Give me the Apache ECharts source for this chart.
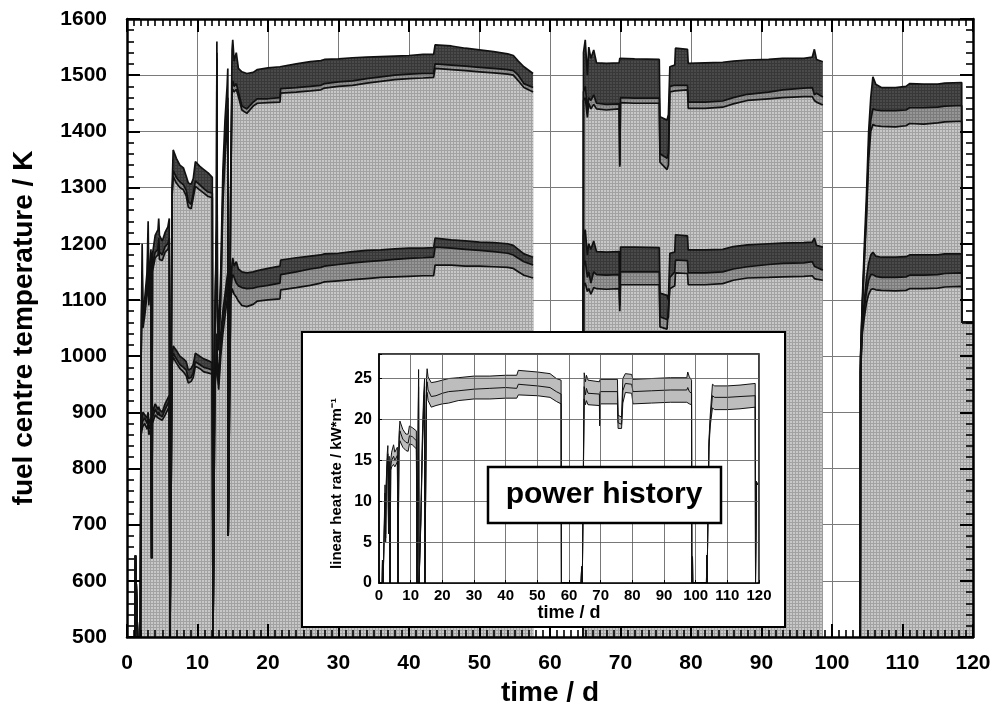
<!DOCTYPE html>
<html><head><meta charset="utf-8">
<script src="https://cdn.jsdelivr.net/npm/echarts@6/dist/echarts.min.js"></script>
<style>html,body{margin:0;padding:0;background:#fff}#c{width:996px;height:715px}</style>
</head><body><div id="c"></div>
<script>
// ---------- main chart data (time / d vs fuel centre temperature / K) ----------
const days = [1.15,1.2,1.45,1.5,1.9, 2.0,2.15,2.25,2.5,2.85, 3.0,3.1,3.4,3.5,3.6, 4.0,4.4,4.5,4.6,5.0, 5.4,5.8,6.0,6.1,6.3, 6.4,6.55,7.0,7.5,8.0, 8.4,8.7,9.1,9.4,9.7, 10.3,10.9,11.5,12.1,12.2, 12.4,12.45,12.7,12.75,12.82, 13.0,13.3,13.6,13.9,14.2, 14.3,14.35,14.6,14.7,14.9, 15.0,
  15.2,15.5,15.8,16.3,17.0, 17.9,18.5,20.0,21.7,21.8, 24.0,26.0,27.5,28.0,30.0, 32.0,34.0,36.0,38.0,40.0, 42.0,43.5,43.7,46.0,48.0, 50.0,52.0,54.0,54.8,55.5, 56.3,57.6,60,
  64.7,64.75,65.0,65.3,65.5, 65.8,66.2,66.6,68.0,69.8, 69.9,70.0,72.0,75.5,75.6, 76.6,76.8,77.0,77.7,77.8, 79.5,79.6,82.0,84.5,86.0, 88.0,91.0,93.0,96.0,97.2, 97.5,97.8,98.7,101,
  104.0,104.05,104.3,104.6,104.9, 105.2,105.5,105.8,106.2,107.0, 109.0,110.5,111.0,113.0,115.0, 116.0,118.4,118.45,120];

const upperTop = [500,645,645,500,500, 1000,1200,1080,1100,1150, 1240,1120,1190,640,1180, 1215,1225,1245,1215,1205, 1220,1230,1245,500,500, 1300,1367,1352,1340,1335, 1320,1308,1306,1316,1346, 1338,1332,1326,1318,500, 500,1050,1250,1560,1100, 1040,1150,1330,1420,1480, 1512,680,680,1300,1545, 1563,
  1525,1540,1512,1506,1503, 1505,1510,1513,1515,1518, 1520,1524,1526,1528,1529, 1531,1532,1533,1534,1535, 1537,1537,1554,1552,1548, 1545,1542,1538,1535,1525, 1515,1503,null,
  500,1540,1563,1500,1550, 1530,1545,1522,1521,1522, 1530,1530,1529,1528,1426, 1420,1430,1515,1518,1548, 1546,1521,1522,1523,1525, 1527,1528,1530,1530,1532, 1546,1528,1524,null,
  500,1000,1100,1200,1290, 1400,1460,1497,1484,1478, 1478,1480,1485,1484,1484, 1486,1487,1060,1060];

const upperMid = [500,645,645,500,500, 995,1150,1060,1080,1120, 1200,1100,1170,640,1160, 1185,1190,1210,1185,1180, 1195,1200,1210,500,500, 1290,1330,1318,1310,1305, 1295,1275,1270,1290,1312, 1305,1298,1292,1290,500, 500,1040,1230,1540,1080, 1020,1120,1290,1370,1430, 1460,680,680,1280,1480, 1490,
  1480,1485,1470,1445,1440, 1452,1458,1458,1460,1476, 1478,1480,1482,1485,1488, 1490,1494,1497,1500,1502, 1503,1503,1520,1518,1516, 1514,1512,1510,1508,1500, 1485,1478,null,
  500,1470,1480,1440,1460, 1455,1465,1450,1448,1449, 1340,1460,1459,1459,1360, 1352,1360,1480,1482,1483, 1482,1452,1452,1454,1460, 1466,1470,1474,1477,1478, 1465,1468,1461,null,
  500,995,1090,1180,1260, 1370,1420,1440,1438,1437, 1437,1438,1442,1442,1443, 1445,1446,1060,1060];

const upperBot = [500,645,645,500,500, 990,1140,1050,1070,1110, 1190,1090,1160,640,1150, 1175,1180,1200,1172,1170, 1185,1190,1200,500,500, 1285,1320,1308,1300,1296, 1285,1265,1262,1282,1302, 1296,1290,1284,1282,500, 500,1035,1220,1530,1070, 1010,1100,1270,1350,1410, 1440,680,680,1270,1470, 1475,
  1470,1475,1462,1438,1432, 1445,1450,1451,1452,1468, 1470,1472,1474,1477,1480, 1482,1486,1489,1492,1494, 1495,1496,1512,1510,1508, 1506,1504,1502,1500,1490, 1478,1470,null,
  500,1455,1460,1425,1450, 1440,1448,1440,1438,1440, 1337,1451,1450,1450,1345, 1332,1340,1470,1472,1475, 1474,1441,1441,1443,1449, 1455,1458,1460,1462,1462, 1455,1452,1447,null,
  500,990,1085,1170,1250, 1350,1400,1412,1410,1409, 1408,1410,1414,1413,1415, 1417,1418,1060,1060];

const lowerTop = [500,645,645,500,500, 880,890,900,900,890, 900,880,890,640,900, 915,905,910,905,900, 915,925,930,500,500, 1000,1018,1010,1000,995, 990,975,978,985,1005, 1000,995,992,988,500, 500,950,1000,1040,990, 960,1040,1080,1110,1140, 1148,680,680,1120,1165, 1175,
  1160,1168,1155,1150,1148, 1150,1152,1156,1160,1171, 1175,1178,1180,1182,1183, 1186,1188,1189,1191,1192, 1192,1193,1210,1207,1205, 1203,1202,1200,1197,1190, 1182,1176,null,
  500,1215,1225,1180,1200, 1190,1205,1186,1185,1186, 1100,1194,1194,1193,1112, 1108,1100,1183,1185,1216, 1214,1189,1189,1190,1195, 1198,1200,1201,1202,1203, 1210,1197,1194,null,
  500,980,1060,1100,1140, 1165,1180,1185,1178,1176, 1176,1177,1180,1180,1180, 1182,1182,1060,1060];

const lowerMid = [500,645,645,500,500, 870,880,885,890,880, 890,870,880,640,890, 905,895,900,895,892, 905,915,920,500,500, 990,1005,995,985,980, 975,960,962,970,990, 985,980,978,975,500, 500,945,990,1030,980, 950,1020,1060,1090,1120, 1125,680,680,1110,1140, 1145,
  1140,1130,1125,1122,1120, 1121,1123,1126,1130,1145, 1150,1155,1158,1160,1163, 1166,1168,1170,1172,1174, 1175,1176,1194,1192,1190, 1188,1186,1183,1180,1174, 1168,1162,null,
  500,1160,1170,1140,1150, 1130,1150,1145,1144,1145, 1090,1150,1150,1150,1070, 1065,1070,1140,1150,1171, 1170,1148,1148,1150,1155, 1159,1163,1165,1166,1168, 1160,1158,1153,null,
  500,975,1050,1085,1115, 1135,1145,1145,1142,1140, 1140,1141,1144,1144,1145, 1147,1148,1060,1060];

const lowerBot = [500,645,645,500,500, 860,870,875,880,870, 880,860,870,640,880, 895,890,890,888,886, 895,905,910,500,500, 985,998,988,978,972, 965,952,955,962,982, 978,972,970,968,500, 500,940,985,1020,970, 940,1000,1040,1070,1100, 1105,680,680,1100,1120, 1120,
  1110,1105,1098,1090,1088, 1092,1098,1100,1102,1118, 1122,1126,1130,1132,1134, 1136,1138,1140,1141,1142, 1143,1143,1162,1162,1160, 1160,1159,1158,1156,1150, 1144,1139,null,
  500,1125,1130,1115,1120, 1110,1122,1120,1119,1120, 1080,1127,1127,1127,1052, 1048,1050,1120,1125,1148, 1147,1127,1127,1129,1135, 1139,1140,1141,1142,1143, 1138,1137,1135,null,
  500,970,1040,1070,1095, 1110,1118,1120,1118,1117, 1116,1117,1120,1120,1121, 1123,1124,1060,1060];

// ---------- inset data (power history: linear heat rate / kW*m^-1) ----------
const insetDays = [0,1.0,1.1,1.3,1.8, 1.9,2.1,2.3,2.6,2.8, 3.0,3.2,3.4,3.5,3.7, 4.0,4.6,5.0,5.8,6.0, 6.3,6.6,7.5,8.5,9.2, 9.6,10.5,11.8,12.0,12.4, 12.5,12.65,13.0,13.2,13.7, 14.1,14.4,14.5,14.9,15.0,
  15.2,15.5,16.5,18.0,20.0, 22.0,25.0,30.0,35.0,40.0, 43.5,44.0,50.0,54.0,56.0, 57.5,57.6,63.8,64.0,64.2, 64.7,64.8,65.2,65.5,66.0, 66.6,69.6,69.7,69.8,75.3,
  75.5,76.6,77.0,77.8,79.8, 80.2,86.0,92.0,97.2,97.5, 98.0,98.7,98.8,99.0,99.1, 103.4,103.5,103.6,104.0,104.2, 104.6,105.3,106.0,110.0,114.0, 118.8,118.9,119.1,119.2,119.5];
const insetTop = [0,0,2.8,0,0, 12,6,12.5,15.8,16.8, 8,15.5,15.5,0,15, 16,16.9,16,16.6,0, 18,19.8,18.8,18.2,18.2, 19.2,19,18.6,0,0, 26.1,0,0,8,18, 23,25,0,0,25,
  26.2,25.2,24.5,24.6,24.8, 25.0,25.1,25.3,25.3,25.4, 25.4,26.0,25.8,25.6,25.0, 24.8,0,0,2,0, 0,25.7,24.6,25.4,24.8, 24.6,24.6,24.5,24.9,24.9,
  20.5,20.3,25.0,25.6,25.5, 24.9,25.0,25.1,25.1,25.8, 25.2,24.8,0,3.2,0, 0,3.4,0,0,17.5, 20.5,24.3,24.1,24.1,24.2, 24.4,0,0,12.4,12];
const insetMid = [0,0,2.8,0,0, 11,5.5,12,15,15.8, 7,14.8,14.8,0,14.3, 15,15.5,15,15.6,0, 17,18.6,17.6,17.2,17.1, 18,17.9,17.4,0,0, 25,0,0,7.5,17, 22,24,0,0,24,
  24.6,23.6,22.8,22.9,23.2, 23.4,23.5,23.7,23.8,23.9, 23.8,24.3,24.1,23.9,23.4, 23.1,0,0,2,0, 0,24,23,23.8,23.2, 23.1,23.1,19.4,23.4,23.4,
  19.6,19.4,23.5,24.4,24.3, 23.4,23.5,23.6,23.6,23.9, 23.4,23.2,0,3.2,0, 0,3.4,0,0,17, 19.8,22.9,22.7,22.7,22.8, 22.9,0,0,12.4,12];
const insetBot = [0,0,2.8,0,0, 10,5,11.5,14.2,15, 6,14,14,0,13.8, 14.2,14.5,14.2,14.8,0, 16,17.4,16.6,16.2,16.1, 17,16.9,16.4,0,0, 24,0,0,7,16, 21,23,0,0,23,
  23.3,22.3,21.5,21.7,21.9, 22.0,22.3,22.5,22.5,22.6, 22.6,23.0,22.9,22.7,22.2, 21.9,0,0,2,0, 0,22.5,21.8,22.3,21.8, 21.7,21.7,19.2,21.9,21.9,
  18.9,18.9,22.0,23.3,23.2, 21.9,22.0,22.1,22.1,22.3, 21.9,21.8,0,3.2,0, 0,3.4,0,0,16.5, 19.2,21.4,21.2,21.2,21.3, 21.5,0,0,12.4,12];

// ---------- styling helpers ----------
const FONT = '"Liberation Sans", Arial, Helvetica, sans-serif';
const pair = (xs, ys) => xs.map((x, i) => [x, ys[i]]);

// fine screen-like textures (as in the printed original)
function meshPattern(light, dark) {
  const c = document.createElement('canvas');
  c.width = 3; c.height = 3;
  const g = c.getContext('2d');
  g.fillStyle = light; g.fillRect(0, 0, 3, 3);
  g.fillStyle = dark; g.fillRect(0, 0, 3, 1); g.fillRect(0, 0, 1, 3);
  return { image: c, repeat: 'repeat' };
}
const LIGHT = meshPattern('#c8c8c8', '#a2a2a2');
const MED = meshPattern('#969696', '#7c7c7c');
const DARK = meshPattern('#4a4a4a', '#383838');

function mainSeries(vals, fill) {
  return { type: 'line', data: pair(days, vals), xAxisIndex: 0, yAxisIndex: 0,
    symbol: 'none', showSymbol: false, connectNulls: false, silent: true, z: 2,
    lineStyle: { color: '#111', width: 1.7 },
    areaStyle: { color: fill, opacity: 1, origin: 'start' } };
}
function insetSeries(vals, fill) {
  const s = { type: 'line', data: pair(insetDays, vals), xAxisIndex: 3, yAxisIndex: 3,
    symbol: 'none', showSymbol: false, silent: true, z: 21,
    lineStyle: { color: '#111', width: 1 } };
  if (fill) s.areaStyle = { color: fill, opacity: 1, origin: 'start' };
  return s;
}

const tickCommon = {
  axisLine: { show: true, onZero: false, lineStyle: { color: '#000', width: 2.5 } },
  axisTick: { show: true, inside: true, length: 13, lineStyle: { color: '#000', width: 2 } },
  splitLine: { show: false }
};
const gridLineOnly = {
  axisLine: { show: false }, axisTick: { show: false }, axisLabel: { show: false },
  splitLine: { show: true, lineStyle: { color: '#7a7a7a', width: 1 } }
};
const plain = v => String(v);

function xMain(pos, withLabels) {
  return Object.assign({ type: 'value', gridIndex: 0, position: pos, min: 0, max: 120, interval: 10, z: 5,
    minorTick: { show: true, splitNumber: 10, length: 7, lineStyle: { color: '#000', width: 1.6 } },
    axisLabel: withLabels ? { show: true, fontFamily: FONT, fontSize: 21, fontWeight: 'bold', color: '#000', margin: 16, formatter: plain } : { show: false },
    name: withLabels ? 'time / d' : '', nameLocation: 'middle', nameGap: 39,
    nameTextStyle: { fontFamily: FONT, fontSize: 28, fontWeight: 'bold', color: '#000' }
  }, tickCommon);
}
function yMain(pos, withLabels) {
  return Object.assign({ type: 'value', gridIndex: 0, position: pos, min: 500, max: 1600, interval: 100, z: 5,
    minorTick: { show: true, splitNumber: 5, length: 7, lineStyle: { color: '#000', width: 1.6 } },
    axisLabel: withLabels ? { show: true, fontFamily: FONT, fontSize: 21, fontWeight: 'bold', color: '#000', margin: 20, formatter: plain } : { show: false },
    name: withLabels ? 'fuel centre temperature / K' : '', nameLocation: 'middle', nameGap: 89,
    nameTextStyle: { fontFamily: FONT, fontSize: 28, fontWeight: 'bold', color: '#000' }
  }, tickCommon);
}

const insetAxisBase = {
  z: 22,
  axisLine: { show: true, onZero: false, lineStyle: { color: '#000', width: 1.5 } },
  axisTick: { show: true, inside: true, length: 3, lineStyle: { color: '#000', width: 1 } },
  splitLine: { show: true, lineStyle: { color: '#555', width: 0.8 } }
};

const option = {
  animation: false,
  backgroundColor: '#fff',
  grid: [
    { left: 127, top: 19, width: 846, height: 618, outerBoundsMode: 'none', containLabel: false },
    { left: 379, top: 354, width: 380, height: 229, outerBoundsMode: 'none', containLabel: false,
      show: true, borderColor: '#000', borderWidth: 1.5, backgroundColor: 'transparent', z: 20 }
  ],
  xAxis: [
    xMain('bottom', true),
    xMain('top', false),
    Object.assign({ type: 'value', gridIndex: 0, position: 'bottom', min: 0, max: 120, interval: 10, z: 0 }, gridLineOnly),
    Object.assign({ type: 'value', gridIndex: 1, position: 'bottom', min: 0, max: 120, interval: 10,
      axisLabel: { fontFamily: FONT, fontSize: 15, fontWeight: 'bold', color: '#000', margin: 5, formatter: plain },
      name: 'time / d', nameLocation: 'middle', nameGap: 21,
      nameTextStyle: { fontFamily: FONT, fontSize: 18, fontWeight: 'bold', color: '#000' } }, insetAxisBase)
  ],
  yAxis: [
    yMain('left', true),
    yMain('right', false),
    Object.assign({ type: 'value', gridIndex: 0, position: 'left', min: 500, max: 1600, interval: 100, z: 0 }, gridLineOnly),
    Object.assign({ type: 'value', gridIndex: 1, position: 'left', min: 0, max: 28, interval: 5,
      axisLabel: { fontFamily: FONT, fontSize: 16, fontWeight: 'bold', color: '#000', margin: 7,
        formatter: v => (v % 5 === 0 ? String(v) : '') },
      name: 'linear heat rate / kW*m⁻¹', nameLocation: 'middle', nameGap: 35,
      nameTextStyle: { fontFamily: FONT, fontSize: 15, fontWeight: 'bold', color: '#000', padding: [0, 30, 0, 0] } }, insetAxisBase)
  ],
  graphic: [
    { type: 'rect', z: 10, silent: true, shape: { x: 302, y: 332, width: 483, height: 295 },
      style: { fill: '#fff', stroke: '#000', lineWidth: 2 } },
    { type: 'rect', z: 30, silent: true, shape: { x: 488, y: 467, width: 233, height: 56 },
      style: { fill: '#fff', stroke: '#000', lineWidth: 2.5 } },
    { type: 'text', z: 31, silent: true, x: 604, y: 495,
      style: { text: 'power history', font: 'bold 30px "Liberation Sans", Arial, sans-serif', fill: '#000',
        textAlign: 'center', textVerticalAlign: 'middle' } }
  ],
  series: [
    mainSeries(upperTop, DARK),
    mainSeries(upperMid, MED),
    mainSeries(upperBot, LIGHT),
    mainSeries(lowerTop, DARK),
    mainSeries(lowerMid, MED),
    mainSeries(lowerBot, LIGHT),
    insetSeries(insetTop, '#bdbdbd'),
    insetSeries(insetBot, '#ffffff'),
    insetSeries(insetMid, null)
  ]
};

const chart = echarts.init(document.getElementById('c'), null, { renderer: 'canvas', width: 996, height: 715 });
chart.setOption(option);
</script>
</body></html>
